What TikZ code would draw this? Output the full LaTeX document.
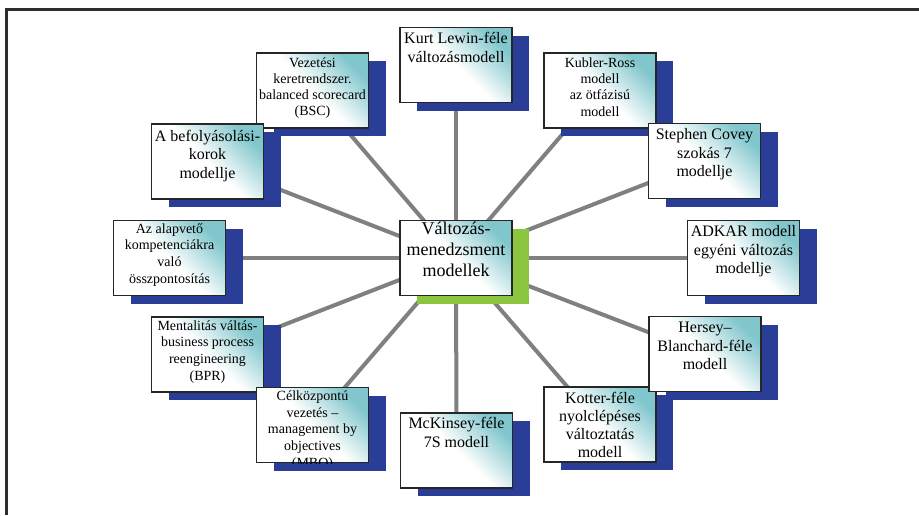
\documentclass[tikz,border=0pt]{standalone}
\usepackage{fontspec}
\setmainfont{Liberation Serif}
\usetikzlibrary{shadows,backgrounds}
\definecolor{navyshadow}{RGB}{42,62,152}
\definecolor{greenshadow}{RGB}{140,198,63}
\definecolor{boxteal}{RGB}{128,198,204}
\definecolor{connGray}{RGB}{128,128,128}
\definecolor{frameGray}{RGB}{45,45,45}
\newcommand\btxt[4]{\parbox[c][75pt][t]{112pt}{\centering\fontsize{#1pt}{#2pt}\selectfont\rule{0pt}{#3pt}#4}}
\tikzset{
  basebox/.style={draw=black!85, line width=1.3pt, inner sep=0pt,
    minimum width=112pt, minimum height=75pt,
    top color=boxteal, bottom color=white, middle color=white, shading angle=-45},
  mbox/.style={basebox, drop shadow={shadow xshift=17pt, shadow yshift=-8pt, fill=navyshadow, opacity=1}},
  cbox/.style={basebox, drop shadow={shadow xshift=17pt, shadow yshift=-8pt, fill=greenshadow, opacity=1}},
  conn/.style={draw=connGray, line width=4pt},
  frameline/.style={draw=frameGray, line width=3pt},
}
\begin{document}
\begin{tikzpicture}[x=1pt,y=-1pt]
\useasboundingbox (0,0) rectangle (919,515);
\draw[frameline] (6.5,515) -- (6.5,9) -- (919,9);

\node[mbox] (kurt) at (456,65) {\btxt{16}{18.5}{16}{Kurt Lewin-féle\\változásmodell}};
\node[mbox] (bsc) at (312.5,90.5) {\btxt{14}{16.3}{14}{Vezetési\\keretrendszer.\\balanced scorecard\\(BSC)}};
\node[mbox] (befoly) at (207.5,161.5) {\btxt{16}{18.5}{17}{A befolyásolási-\\korok\\modellje}};
\node[mbox] (alap) at (169.5,258) {\btxt{14}{16.7}{12.5}{Az alapvető\\kompetenciákra\\való\\összpontosítás}};
\node[mbox] (ment) at (207.5,354.5) {\btxt{14}{16.8}{13}{Mentalitás váltás-\\business process\\reengineering\\(BPR)}};
\node[mbox] (celk) at (312.5,425) {};
\begin{scope}
  \clip (celk.south west) rectangle (celk.north east);
  \node[inner sep=0pt] (celktext) at (celk.center) {\btxt{14}{16.7}{13}{Célközpontú\\vezetés –\\management by\\objectives\\(MBO)}};
\end{scope}
\node[mbox] (mck) at (456.5,450.5) {\btxt{16}{18.5}{15.5}{McKinsey-féle\\7S modell}};
\node[mbox] (kotter) at (600,424.5) {\btxt{16}{18.3}{16}{Kotter-féle\\nyolclépéses\\változtatás\\modell}};
\node[mbox] (hersey) at (705,354) {\btxt{16}{18.5}{16}{Hersey–\\Blanchard-féle\\modell}};
\node[mbox] (adkar) at (743.5,258) {\btxt{16}{18.5}{16}{ADKAR modell\\egyéni változás\\modellje}};
\node[mbox] (kubler) at (600,90.5) {\btxt{14}{16.4}{14}{Kubler-Ross\\modell\\az ötfázisú\\modell}};
\node[mbox] (covey) at (704.5,161) {\btxt{16}{18.5}{16}{Stephen Covey\\szokás 7\\modellje}};
\node[cbox] (center) at (456,258) {\btxt{18}{21}{14}{Változás-\\menedzsment\\modellek}};

\begin{scope}[on background layer]
  \foreach \t in {kurt,bsc,befoly,alap,ment,celk,mck,kotter,hersey,adkar,kubler,covey}
    \draw[conn] (center.center) -- (\t.center);
\end{scope}
\end{tikzpicture}
\end{document}
